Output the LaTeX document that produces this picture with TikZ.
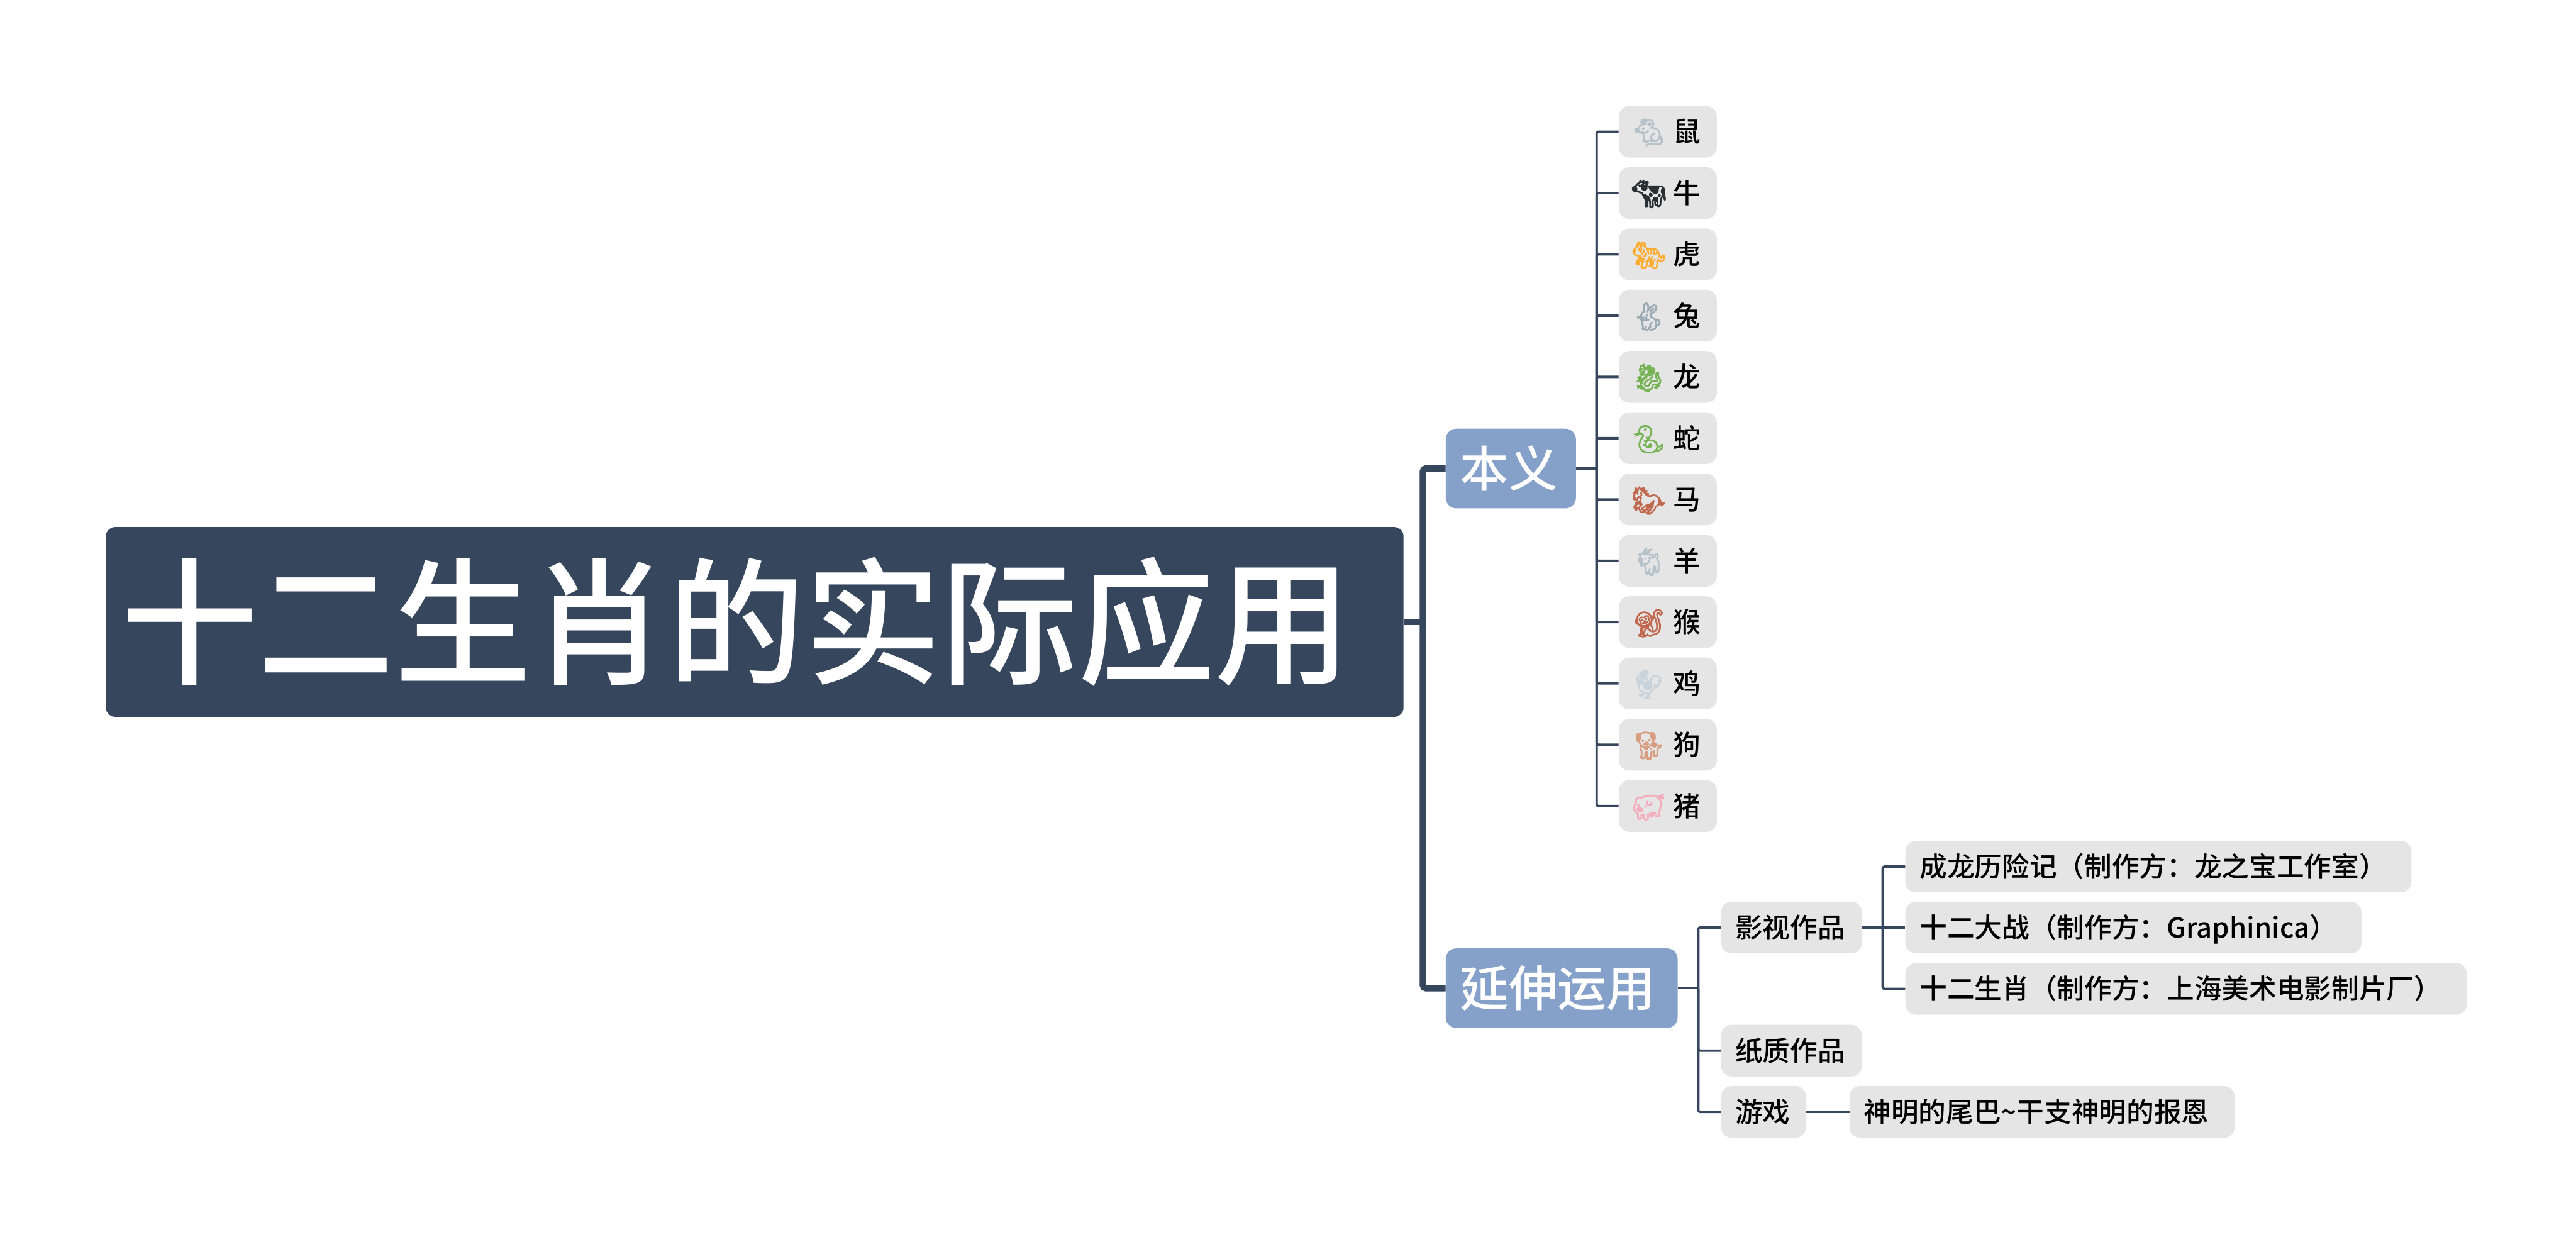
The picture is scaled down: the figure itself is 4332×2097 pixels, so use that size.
\documentclass[tikz,border=0pt]{standalone}
\usepackage{fontspec}
\setmainfont{Noto Sans CJK SC}
\newfontfamily\medfont{Noto Sans CJK SC Medium}
\newfontfamily\emojifont[FakeBold=2.5]{Noto Emoji}
\definecolor{rootblue}{HTML}{36465D}
\definecolor{branchblue}{HTML}{85A1CA}
\definecolor{leafgray}{HTML}{E5E5E5}
\newcommand{\beast}[3]{\makebox[53pt]{\emojifont\fontsize{46}{46}\selectfont\textcolor[HTML]{#1}{#2}}\hspace{15pt}#3}
\tikzset{
    rootbox/.style={anchor=west, fill=rootblue, rounded corners=15pt, text=white, inner xsep=25pt, inner ysep=0pt, minimum height=319pt, text width=2132pt, text height=201.5pt, text depth=27.5pt, align=left, font=\medfont\fontsize{230}{230}\selectfont},
    topicbox/.style={anchor=west, fill=branchblue, rounded corners=18pt, text=white, inner xsep=24pt, inner ysep=0pt, minimum height=134pt, text height=72pt, text depth=10pt, align=left, font=\medfont\fontsize{82}{82}\selectfont},
    leafbox/.style={anchor=west, fill=leafgray, rounded corners=18pt, text=black, inner xsep=24pt, inner ysep=0pt, minimum height=87pt, text height=40.5pt, text depth=5.5pt, align=left, font=\medfont\fontsize{46.2}{46.2}\selectfont},
    trunkline/.style={draw=rootblue, line width=11pt, rounded corners=5pt},
    twigline/.style={draw=rootblue, line width=4pt, rounded corners=3pt},
}
\begin{document}
\begin{tikzpicture}[x=1pt, y=-1pt]
    \useasboundingbox (0,0) rectangle (4332,2097);

    % Le titre et les deux branches principales
    \node[rootbox] (root) at (178,1046) {十二生肖的实际应用};
    \node[topicbox, text width=171pt] (benyi) at (2431,788) {本义};
    \node[topicbox, text width=342pt] (yanshen) at (2431,1662) {延伸运用};

    % Les douze animaux
    \node[leafbox, text width=117pt] (shu) at (2722,221.5) {\beast{B5C2CA}{🐁}{鼠}};
    \node[leafbox, text width=117pt] (niu) at (2722,324.6) {\beast{292F33}{🐄}{牛}};
    \node[leafbox, text width=117pt] (hu) at (2722,427.7) {\beast{FFAC33}{🐅}{虎}};
    \node[leafbox, text width=117pt] (tu) at (2722,530.8) {\beast{99AAB5}{🐇}{兔}};
    \node[leafbox, text width=117pt] (long) at (2722,633.9) {\beast{77B255}{🐉}{龙}};
    \node[leafbox, text width=117pt] (she) at (2722,737) {\beast{77B255}{🐍}{蛇}};
    \node[leafbox, text width=117pt] (ma) at (2722,840.1) {\beast{C1694F}{🐎}{马}};
    \node[leafbox, text width=117pt] (yang) at (2722,943.2) {\beast{B5C2CA}{🐐}{羊}};
    \node[leafbox, text width=117pt] (hou) at (2722,1046.3) {\beast{C1694F}{🐒}{猴}};
    \node[leafbox, text width=117pt] (ji) at (2722,1149.4) {\beast{C8D2DA}{🐓}{鸡}};
    \node[leafbox, text width=117pt] (gou) at (2722,1252.5) {\beast{D99E82}{🐕}{狗}};
    \node[leafbox, text width=117pt] (zhu) at (2722,1355.6) {\beast{F4ABBA}{🐖}{猪}};

    % Les sous-branches de droite
    \node[leafbox, text width=189pt] (yingshi) at (2894,1560) {影视作品};
    \node[leafbox, text width=189pt] (zhizhi) at (2894,1767) {纸质作品};
    \node[leafbox, text width=95pt] (youxi) at (2894,1870) {游戏};
    \node[leafbox, text width=803pt] (chenglong) at (3204,1457.5) {成龙历险记（制作方：龙之宝工作室）};
    \node[leafbox, text width=719pt] (dazhan) at (3204,1560) {十二大战（制作方：Graphinica）};
    \node[leafbox, text width=896pt] (shengxiao) at (3204,1663) {十二生肖（制作方：上海美术电影制片厂）};
    \node[leafbox, text width=600pt] (shenming) at (3110,1870) {神明的尾巴\textasciitilde 干支神明的报恩};

    % Les barres verticales
    \coordinate (trunk) at (2393,1046);
    \coordinate (busA) at (2685,788);
    \coordinate (busB) at (2856,1662);
    \coordinate (busC) at (3166,1560);

    % Liaisons depuis le titre
    \draw[trunkline] (root.east) -- (trunk);
    \draw[trunkline] (trunk) |- (benyi.west);
    \draw[trunkline] (trunk) |- (yanshen.west);

    % Liaisons vers les animaux
    \draw[twigline] (benyi.east) -- (busA);
    \draw[twigline] (busA) |- (shu.west);
    \draw[twigline] (busA) |- (niu.west);
    \draw[twigline] (busA) |- (hu.west);
    \draw[twigline] (busA) |- (tu.west);
    \draw[twigline] (busA) |- (long.west);
    \draw[twigline] (busA) |- (she.west);
    \draw[twigline] (busA) |- (ma.west);
    \draw[twigline] (busA) |- (yang.west);
    \draw[twigline] (busA) |- (hou.west);
    \draw[twigline] (busA) |- (ji.west);
    \draw[twigline] (busA) |- (gou.west);
    \draw[twigline] (busA) |- (zhu.west);

    % Liaisons vers les oeuvres
    \draw[twigline] (yanshen.east) -- (busB);
    \draw[twigline] (busB) |- (yingshi.west);
    \draw[twigline] (busB) |- (zhizhi.west);
    \draw[twigline] (busB) |- (youxi.west);
    \draw[twigline] (yingshi.east) -- (busC);
    \draw[twigline] (busC) |- (chenglong.west);
    \draw[twigline] (busC) -- (dazhan.west);
    \draw[twigline] (busC) |- (shengxiao.west);
    \draw[twigline] (youxi.east) -- (shenming.west);
\end{tikzpicture}
\end{document}
